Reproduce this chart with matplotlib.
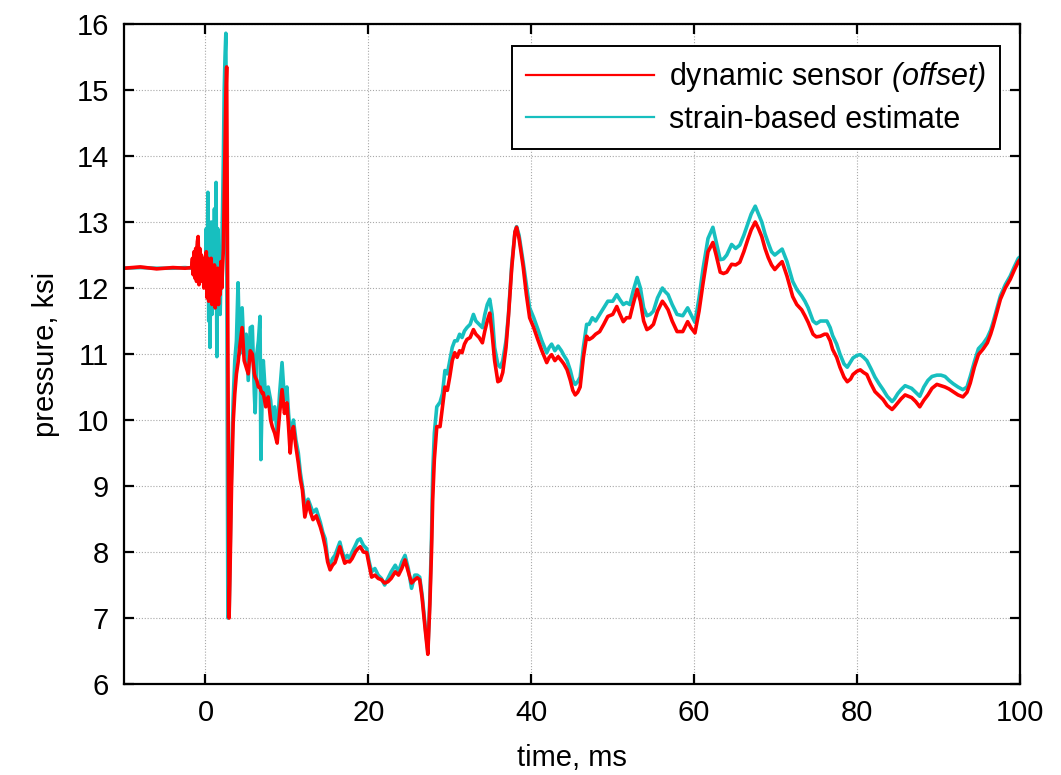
import matplotlib

matplotlib.use("Agg")
import matplotlib.pyplot as plt
from matplotlib.lines import Line2D

plt.rcParams["font.family"] = ["Liberation Sans", "DejaVu Sans"]
# math text is only used for the italic part of the legend label
plt.rcParams["mathtext.fontset"] = "custom"
plt.rcParams["mathtext.rm"] = "Liberation Sans:italic"
plt.rcParams["mathtext.it"] = "Liberation Sans:italic"

# time base shared by both traces, ms
t_ms = [
    -10.0, -8.0, -6.0, -4.0, -2.5, -1.7,
    -1.6, -1.5, -1.4, -1.3, -1.2, -1.1, -1.0, -0.9, -0.8, -0.7,
    -0.6, -0.5, -0.4, -0.3, -0.2, -0.1, 0.0, 0.1, 0.2, 0.3,
    0.4, 0.5, 0.55, 0.7, 0.8, 0.9, 1.0, 1.1, 1.2, 1.3,
    1.4, 1.5, 1.6, 1.7, 1.8, 1.9, 2.0, 2.1, 2.2, 2.3,
    2.4, 2.5, 2.6, 2.75, 2.9, 3.0, 3.2, 3.4, 3.6, 3.8,
    4.0, 4.2, 4.5, 4.75, 5.0, 5.25, 5.5, 5.75, 6.0, 6.1,
    6.3, 6.5, 6.7, 6.8, 7.0, 7.1, 7.4, 7.7, 8.0, 8.2,
    8.5, 8.8, 9.1, 9.4, 9.7, 10.0, 10.2, 10.4, 10.6, 10.8,
    11.1, 11.4, 11.65, 11.9, 12.2, 12.6, 12.9, 13.2, 13.6, 14.1,
    14.4, 14.7, 15.0, 15.3, 15.6, 15.9, 16.2, 16.5, 16.8, 17.1,
    17.4, 17.7, 18.0, 18.4, 18.7, 19.0, 19.4, 19.8, 20.1, 20.4,
    20.8, 21.2, 21.6, 22.0, 22.4, 22.8, 23.3, 23.7, 24.1, 24.5,
    24.9, 25.3, 25.7, 26.0, 26.3, 26.6, 27.0, 27.3, 27.55, 27.75,
    27.9, 28.1, 28.4, 28.8, 29.1, 29.4, 29.7, 30.0, 30.3, 30.6,
    30.9, 31.2, 31.5, 31.8, 32.1, 32.5, 32.9, 33.2, 33.6, 34.0,
    34.3, 34.6, 34.9, 35.2, 35.5, 35.9, 36.2, 36.5, 36.9, 37.2,
    37.6, 38.0, 38.2, 38.5, 39.0, 39.4, 39.8, 40.3, 40.8, 41.3,
    41.9, 42.2, 42.5, 42.9, 43.3, 43.7, 44.0, 44.4, 44.8, 45.1,
    45.4, 45.7, 46.0, 46.4, 46.8, 47.1, 47.5, 47.9, 48.4, 48.9,
    49.4, 50.0, 50.5, 50.9, 51.3, 51.7, 52.1, 52.5, 53.0, 53.4,
    53.8, 54.2, 54.6, 55.0, 55.5, 56.1, 56.4, 56.8, 57.3, 57.9,
    58.6, 59.2, 59.6, 60.1, 60.6, 61.1, 61.7, 62.3, 62.7, 63.2,
    63.6, 64.0, 64.6, 65.1, 65.6, 66.1, 66.6, 67.0, 67.5, 67.9,
    68.3, 68.7, 69.1, 69.5, 69.9, 70.4, 70.8, 71.4, 72.1, 72.6,
    73.2, 73.6, 74.0, 74.6, 75.0, 75.5, 76.0, 76.3, 76.7, 77.0,
    77.5, 77.9, 78.4, 78.8, 79.2, 79.5, 80.0, 80.4, 80.8, 81.2,
    81.7, 82.2, 82.7, 83.2, 83.7, 84.3, 84.6, 85.0, 85.4, 85.9,
    86.3, 86.7, 87.2, 87.7, 88.2, 88.7, 89.2, 89.8, 90.3, 90.8,
    91.3, 91.8, 92.4, 93.0, 93.5, 93.9, 94.4, 94.9, 95.5, 96.0,
    96.4, 96.7, 97.2, 97.6, 98.2, 98.8, 99.3, 99.8, 100.0,
]

# dynamic pressure transducer, shifted to the static level, ksi
sensor_ksi = [
    12.30, 12.32, 12.29, 12.31, 12.30, 12.31,
    12.45, 12.20, 12.55, 12.15, 12.60, 12.10, 12.70, 12.78, 12.05, 12.60,
    12.10, 12.50, 12.15, 12.45, 12.00, 12.40, 12.10, 12.55, 11.85, 12.45,
    11.80, 12.30, 11.95, 12.45, 11.75, 12.20, 11.90, 12.35, 11.70, 12.25,
    11.85, 12.30, 11.75, 12.20, 11.90, 12.40, 12.00, 12.30, 12.60, 13.40,
    14.20, 14.90, 15.35, 11.00, 7.00, 7.60, 9.00, 9.96, 10.40, 10.70,
    10.87, 11.10, 11.40, 10.90, 10.80, 10.70, 11.05, 11.00, 10.70, 10.65,
    10.60, 10.50, 10.50, 10.45, 10.40, 10.41, 10.20, 10.35, 10.00, 9.90,
    9.80, 9.65, 10.10, 10.46, 10.10, 10.26, 9.90, 9.50, 9.80, 9.90,
    9.60, 9.35, 9.10, 8.94, 8.53, 8.76, 8.60, 8.49, 8.55, 8.38,
    8.25, 8.08, 7.85, 7.73, 7.80, 7.84, 7.95, 8.08, 7.95, 7.83,
    7.86, 7.85, 7.90, 8.00, 8.05, 8.08, 8.00, 7.99, 7.80, 7.62,
    7.65, 7.60, 7.58, 7.53, 7.55, 7.60, 7.70, 7.65, 7.75, 7.88,
    7.70, 7.53, 7.58, 7.61, 7.58, 7.30, 6.80, 6.45, 7.20, 8.00,
    8.80, 9.40, 9.90, 9.90, 10.20, 10.50, 10.45, 10.66, 10.90, 11.02,
    10.95, 11.05, 11.02, 11.15, 11.22, 11.25, 11.37, 11.30, 11.25, 11.17,
    11.35, 11.50, 11.62, 11.30, 10.90, 10.58, 10.60, 10.72, 11.10, 11.57,
    12.30, 12.85, 12.92, 12.75, 12.33, 11.90, 11.55, 11.40, 11.22, 11.05,
    10.87, 10.95, 10.99, 10.90, 10.96, 10.90, 10.85, 10.76, 10.60, 10.45,
    10.38, 10.42, 10.50, 10.95, 11.27, 11.22, 11.25, 11.30, 11.34, 11.45,
    11.57, 11.60, 11.72, 11.60, 11.49, 11.55, 11.55, 11.75, 11.98, 11.80,
    11.50, 11.37, 11.40, 11.45, 11.65, 11.80, 11.75, 11.67, 11.50, 11.34,
    11.34, 11.49, 11.40, 11.32, 11.65, 12.08, 12.55, 12.69, 12.50, 12.24,
    12.22, 12.24, 12.36, 12.35, 12.39, 12.55, 12.74, 12.88, 13.00, 12.90,
    12.78, 12.60, 12.46, 12.35, 12.28, 12.35, 12.40, 12.18, 11.87, 11.75,
    11.67, 11.58, 11.48, 11.30, 11.26, 11.27, 11.30, 11.30, 11.20, 11.07,
    10.95, 10.80, 10.65, 10.58, 10.62, 10.69, 10.74, 10.76, 10.72, 10.69,
    10.55, 10.43, 10.37, 10.31, 10.22, 10.16, 10.20, 10.26, 10.32, 10.38,
    10.36, 10.34, 10.28, 10.20, 10.30, 10.38, 10.48, 10.54, 10.52, 10.50,
    10.47, 10.43, 10.38, 10.35, 10.42, 10.56, 10.80, 10.99, 11.08, 11.17,
    11.30, 11.42, 11.65, 11.83, 12.00, 12.13, 12.27, 12.40, 12.43,
]

# pressure inferred from hoop strain gauges, ksi
strain_ksi = [
    12.30, 12.31, 12.30, 12.30, 12.31, 12.30,
    12.40, 12.22, 12.50, 12.18, 12.55, 12.12, 12.65, 12.70, 12.10, 12.55,
    12.15, 12.45, 12.20, 12.40, 12.05, 12.35, 12.20, 12.90, 11.90, 13.45,
    11.50, 12.80, 11.10, 13.00, 11.60, 12.60, 11.90, 13.20, 11.70, 13.60,
    10.96, 12.90, 11.80, 12.40, 11.60, 12.20, 12.60, 13.20, 14.00, 15.00,
    15.50, 15.86, 13.00, 7.00, 7.05, 7.80, 9.30, 10.30, 10.90, 11.20,
    12.08, 11.00, 11.70, 11.00, 11.30, 10.60, 11.40, 11.42, 10.40, 10.11,
    11.00, 11.20, 11.57, 9.40, 10.60, 10.90, 10.30, 10.50, 10.30, 10.00,
    10.20, 9.80, 10.40, 10.87, 10.30, 10.50, 10.10, 9.80, 9.90, 10.00,
    9.70, 9.50, 9.20, 9.00, 8.70, 8.80, 8.70, 8.60, 8.65, 8.45,
    8.30, 8.20, 7.90, 7.80, 7.90, 7.95, 8.05, 8.15, 8.00, 7.90,
    7.95, 7.90, 8.00, 8.10, 8.18, 8.20, 8.10, 8.05, 7.85, 7.70,
    7.75, 7.65, 7.60, 7.50, 7.60, 7.70, 7.80, 7.70, 7.85, 7.95,
    7.75, 7.45, 7.65, 7.65, 7.62, 7.35, 6.85, 6.50, 7.30, 8.20,
    9.20, 9.80, 10.20, 10.27, 10.40, 10.75, 10.70, 10.90, 11.10, 11.20,
    11.20, 11.30, 11.25, 11.35, 11.40, 11.45, 11.60, 11.50, 11.45, 11.40,
    11.60, 11.75, 11.83, 11.60, 11.10, 10.84, 10.80, 10.90, 11.20, 11.60,
    12.35, 12.85, 12.93, 12.80, 12.40, 12.05, 11.70, 11.55, 11.38, 11.20,
    11.02, 11.10, 11.15, 11.05, 11.12, 11.05, 10.98, 10.90, 10.75, 10.60,
    10.54, 10.58, 10.65, 11.10, 11.45, 11.45, 11.55, 11.50, 11.60, 11.70,
    11.80, 11.80, 11.90, 11.82, 11.75, 11.78, 11.75, 11.95, 12.16, 12.00,
    11.70, 11.58, 11.60, 11.65, 11.85, 12.00, 11.95, 11.90, 11.75, 11.60,
    11.58, 11.70, 11.60, 11.48, 11.85, 12.30, 12.75, 12.92, 12.70, 12.43,
    12.44, 12.50, 12.66, 12.60, 12.65, 12.80, 12.98, 13.12, 13.24, 13.12,
    13.00, 12.82, 12.68, 12.55, 12.50, 12.55, 12.59, 12.40, 12.10, 11.98,
    11.88, 11.80, 11.70, 11.50, 11.46, 11.50, 11.50, 11.50, 11.40, 11.28,
    11.15, 11.00, 10.85, 10.80, 10.88, 10.94, 10.98, 10.99, 10.95, 10.90,
    10.78, 10.65, 10.55, 10.46, 10.36, 10.28, 10.32, 10.40, 10.46, 10.52,
    10.50, 10.48, 10.42, 10.36, 10.50, 10.60, 10.66, 10.68, 10.68, 10.66,
    10.60, 10.55, 10.50, 10.46, 10.50, 10.66, 10.88, 11.08, 11.16, 11.25,
    11.36, 11.48, 11.70, 11.88, 12.05, 12.18, 12.32, 12.45, 12.47,
]

x_ticks = [0, 20, 40, 60, 80, 100]
y_ticks = [6, 7, 8, 9, 10, 11, 12, 13, 14, 15, 16]

RED = "#ff0000"
CYAN = "#17bfbf"
FS = 21

fig = plt.figure(figsize=(10.61, 7.75), dpi=100)
ax = fig.add_axes([0.1169, 0.1174, 0.8444, 0.8516])

ax.plot(t_ms, strain_ksi, color=CYAN, lw=2.6, solid_joinstyle="round")
ax.plot(t_ms, sensor_ksi, color=RED, lw=2.6, solid_joinstyle="round")

ax.set_xlim(-10, 100)
ax.set_ylim(6, 16)
ax.set_xticks(x_ticks)
ax.set_yticks(y_ticks)
ax.grid(True, color="#a8a8a8", linestyle=(0, (1, 1.6)), linewidth=0.8)

for side in ax.spines.values():
    side.set_linewidth(1.6)
ax.tick_params(direction="in", length=7, width=1.6, top=True, right=True,
               labelsize=FS, pad=11)

ax.set_xlabel("time, ms", fontsize=FS, labelpad=12)
ax.set_ylabel("pressure, ksi", fontsize=FS, labelpad=12)

handles = [Line2D([], [], color=RED, lw=1.6), Line2D([], [], color=CYAN, lw=1.6)]
labels = [r"dynamic sensor $(offset)$", "strain-based estimate"]
leg = ax.legend(handles, labels, loc="upper right", bbox_to_anchor=(0.978, 0.966),
                borderaxespad=0, fontsize=22, fancybox=False, framealpha=1,
                handlelength=4.2, handletextpad=0.5, labelspacing=0.35,
                borderpad=0.45)
leg.get_frame().set_edgecolor("black")
leg.get_frame().set_linewidth(1.4)

fig.savefig("out.png", dpi=100)
